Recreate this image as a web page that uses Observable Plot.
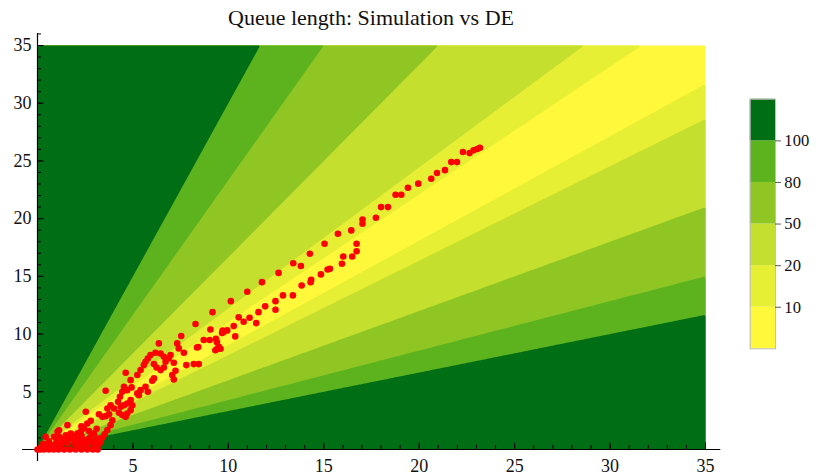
<!DOCTYPE html>
<html><head><meta charset="utf-8">
<script src="https://cdn.jsdelivr.net/npm/d3@7"></script>
<script src="https://cdn.jsdelivr.net/npm/@observablehq/plot@0.6"></script>
<style>
body{margin:0;background:#fff;}
#wrap{position:relative;width:818px;height:475px;overflow:hidden;font-family:"Liberation Serif",serif;}
#chart{position:absolute;left:0;top:0;}
#title{position:absolute;left:0;width:742px;top:7px;text-align:center;font-size:22px;line-height:22px;color:#111;}
#legend{position:absolute;left:740px;top:90px;}
</style></head>
<body><div id="wrap"><div id="chart"></div><div id="title">Queue length: Simulation vs DE</div><div id="legend"></div></div>
<script>
// contour levels (legend labels) and band colours (lowest band first)
const levels = [10, 20, 50, 80, 100];
const bandColors = ["#fff83b", "#e6ef34", "#c5df2e", "#90c624", "#5db31e", "#006e14"];
const xTickLabels = [5, 10, 15, 20, 25, 30, 35];
const yTickLabels = [5, 10, 15, 20, 25, 30, 35];
const xMinor = d3.range(1, 36);
const yMinor = d3.range(1, 37);

// simulated queue length (x) vs differential-equation estimate (y)
const simPoints = [
  [0,0],[0.15,0],[0.35,0],[0.6,0],[0.85,0],[1.1,0],[1.4,0],[1.7,0],[2.0,0],[2.3,0],[2.6,0],[2.9,0],[3.15,0],
  [0.17,0.17],[0.44,0.23],[0.7,0.38],[0.96,0.52],[1.31,0.66],[1.39,0.95],[1.57,0.52],[1.74,0.95],[1.92,0.52],[1.92,1.1],
  [2.09,1.39],[2.09,0.38],[2.18,0.81],[2.35,0.52],[2.44,0.81],[2.7,0.95],[2.87,0.66],[2.96,1.39],[3.05,0.52],[3.14,0.95],
  [2.61,0.29],[1.74,1.39],[1.48,1.24],[1.13,1.1],[0.87,1.1],[1.05,1.53],[0.43,1.09],[1.13,1.67],[1.57,2.11],[2.26,1.53],
  [2.44,1.82],[2.61,2.25],[2.79,2.49],[2.53,3.27],
  [0.3,0.5],[0.6,0.7],[0.8,0.3],[1.2,0.4],[1.5,0.8],[2.0,0.9],[2.3,1.2],[2.6,0.6],[2.8,1.1],[3.0,0.3],[1.0,0.85],
  [2.7,1.6],[2.3,2.0],[3.1,1.8],
  [3.22,0.46],[3.31,0.66],[3.4,1.04],[3.52,1.33],[3.66,1.68],[3.83,2.11],[3.92,2.54],[3.22,3.06],[3.4,2.83],[3.57,2.89],
  [3.75,3.06],[3.66,3.55],[3.83,3.84],[3.57,5.09],[4.01,3.55],[4.27,3.18],[4.44,2.98],[4.62,2.83],[4.7,3.12],[4.88,3.41],
  [4.97,3.84],[4.88,4.28],[4.7,3.99],[4.53,3.84],[4.36,3.7],[4.22,4.13],[4.32,4.57],[4.44,5.0],[4.53,5.43],[4.7,5.14],
  [4.93,5.38],[4.62,6.65],[4.88,6.01],[5.23,6.45],[5.4,5.14],[5.23,4.86],[5.31,4.71],[5.66,5.43],[5.78,5.0],[5.4,6.88],
  [5.57,7.31],[5.66,7.6],[5.78,7.89],[5.92,8.18],[6.18,8.38],[6.45,8.32],[6.62,8.03],[6.71,7.6],[6.62,7.11],[6.45,6.88],
  [6.24,7.11],[6.1,7.4],[6.1,6.16],[6.01,5.95],[6.36,9.19],[6.88,7.89],[6.97,8.18],[7.14,7.51],[7.32,9.19],[7.4,8.76],
  [7.67,8.38],[7.53,9.83],[7.23,6.82],[7.14,6.07],[7.06,6.45],[7.8,7.31],[8.19,7.4],[8.45,7.4],[8.36,8.84],[8.71,9.48],
  [8.28,10.87],[8.42,8.88],
  [9.02,9.48],[9.06,10.4],[9.17,11.9],[9.35,9.6],[9.42,8.73],[9.59,8.73],[9.32,8.6],[9.5,8.9],[9.4,9.3],[9.67,10.1],
  [9.7,10.3],[9.75,10.17],[9.94,10.32],[10.13,12.85],[10.28,10.69],[10.36,9.8],[10.54,11.45],[10.8,11.07],[10.99,13.66],
  [11.11,11.42],[11.46,10.95],[11.58,11.9],[11.76,14.5],[11.93,12.4],[12.47,12.85],[12.47,12.11],[12.63,15.3],[12.86,13.35],
  [13.38,13.35],[13.4,16.14],[13.8,15.9],[13.84,14.21],[14.27,16.96],[14.31,14.5],[14.34,14.71],[14.85,15.17],[15.04,17.82],
  [15.2,15.6],[15.32,15.65],[15.74,18.69],[15.95,16.09],[16.02,16.72],[16.44,18.98],[16.49,16.72],[16.72,17.18],[16.72,17.82],
  [17.03,19.56],[17.03,19.93],[17.73,20.08],[18.0,21.0],[18.36,21.0],[18.76,22.07],[19.06,22.07],[19.41,22.68],[19.95,23.03],
  [20.63,23.46],[20.93,23.95],[21.35,24.2],[21.68,24.9],[21.98,24.9],[22.29,25.77],[22.64,25.68],[22.85,25.92],[23.04,26.03],
  [23.18,26.14]
];

// the contoured surface: relative difference (%) between the two queue lengths
const relDiff = (x, y) => (x + y > 0 ? 200 * Math.abs(x - y) / (x + y) : 0);

const W = 818, H = 475, mL = 37, mR = 113, mT = 45, mB = 26;
const pxX = (W - mL - mR) / 35, pxY = (H - mT - mB) / 35;

const chart = Plot.plot({
  width: W, height: H,
  marginLeft: mL, marginRight: mR, marginTop: mT, marginBottom: mB,
  x: {domain: [0, 35], axis: null},
  y: {domain: [0, 35], axis: null},
  color: {type: "threshold", domain: levels, range: bandColors},
  style: {fontFamily: "Liberation Serif, serif", fontSize: "18px", color: "#111", background: "transparent"},
  marks: [
    Plot.contour({x1: 0, y1: 0, x2: 35, y2: 35, fill: relDiff, thresholds: [0, ...levels], stroke: "none"}),
    Plot.ruleY([0], {x1: -0.78, x2: 35.8, stroke: "#000", strokeWidth: 1.2}),
    Plot.ruleX([0], {y1: -1.05, y2: 36.05, stroke: "#000", strokeWidth: 1.2}),
    Plot.ruleX(xMinor, {x: d => d, y1: 0, y2: 4 / pxY, stroke: "#000"}),
    Plot.ruleX(xTickLabels, {x: d => d, y1: 0, y2: 6.5 / pxY, stroke: "#000"}),
    Plot.ruleY(yMinor, {y: d => d, x1: 0, x2: 4 / pxX, stroke: "#000"}),
    Plot.ruleY(yTickLabels, {y: d => d, x1: 0, x2: 6.5 / pxX, stroke: "#000"}),
    Plot.text(xTickLabels, {x: d => d, y: 0, dy: 10, lineAnchor: "top", text: d => String(d), fontSize: 18, fill: "#111"}),
    Plot.text(yTickLabels, {x: 0, y: d => d, dx: -6, textAnchor: "end", text: d => String(d), fontSize: 18, fill: "#111"}),
    Plot.dot(simPoints, {x: d => d[0], y: d => d[1], r: 3.3, fill: "#ff0000", stroke: "none"})
  ]
});
document.getElementById("chart").appendChild(chart);

// bar legend
const LW = 80, LH = 272, lmL = 10, lmR = 44, lmT = 9, lmB = 7;
const legendBlocks = bandColors.map((c, i) => ({c, i}));
const legend = Plot.plot({
  width: LW, height: LH,
  marginLeft: lmL, marginRight: lmR, marginTop: lmT, marginBottom: lmB,
  x: {domain: [0, 1], axis: null},
  y: {domain: [0, bandColors.length], axis: null},
  color: {type: "identity"},
  style: {fontFamily: "Liberation Serif, serif", fontSize: "17px", color: "#111", background: "transparent", overflow: "visible"},
  marks: [
    Plot.rect(legendBlocks, {x1: 0, x2: 1, y1: d => d.i, y2: d => d.i + 1, fill: d => d.c}),
    Plot.frame({stroke: "#bbb"}),
    Plot.ruleY(levels, {y: (d, i) => i + 1, x1: 1, x2: 1 + 6 / (LW - lmL - lmR), stroke: "#555"}),
    Plot.text(levels, {x: 1, y: (d, i) => i + 1, dx: 9, textAnchor: "start", text: d => String(d), fontSize: 17, fill: "#111"})
  ]
});
document.getElementById("legend").appendChild(legend);
</script>
</body></html>
